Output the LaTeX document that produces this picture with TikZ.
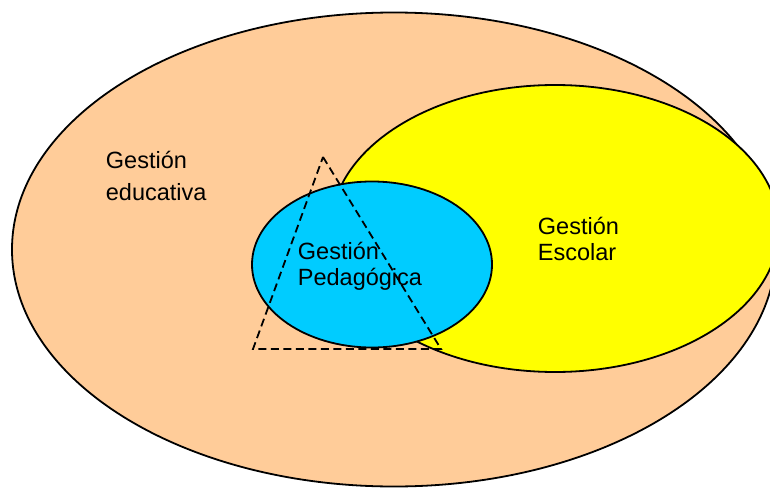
\documentclass[tikz,border=0pt]{standalone}
\usepackage{fontspec}
\setmainfont{Liberation Sans}
\definecolor{peach}{RGB}{255,204,153}
\definecolor{lemon}{RGB}{255,255,0}
\definecolor{skyblue}{RGB}{0,204,255}

\begin{document}
\begin{tikzpicture}[x=1pt, y=-1pt, line width=1.8pt,
    lbl/.style={align=left, inner sep=0pt, anchor=base west}]
        \useasboundingbox (0,0) rectangle (770,487);
        \clip (0,0) rectangle (770,487);
        \draw [fill=peach] (394,249.5) ellipse [x radius=382, y radius=237];
        \draw [fill=lemon] (555,228.5) ellipse [x radius=224, y radius=143.5];
        \draw [fill=skyblue] (372,264.5) ellipse [x radius=120, y radius=83];
        \node [lbl, font=\fontsize{23.5}{32}\selectfont] (educativa) at (105,200) {Gestión\\educativa};
        \node [lbl, font=\fontsize{23.5}{26}\selectfont] (escolar) at (537,260) {Gestión\\Escolar};
        \node [lbl, font=\fontsize{23.5}{26}\selectfont] (pedagogica) at (297,285) {Gestión\\Pedagógica};
        \draw [dash pattern=on 8pt off 4.5pt] (323,157) -- (441,349) -- (253,349) -- cycle;
      \end{tikzpicture}
\end{document}
